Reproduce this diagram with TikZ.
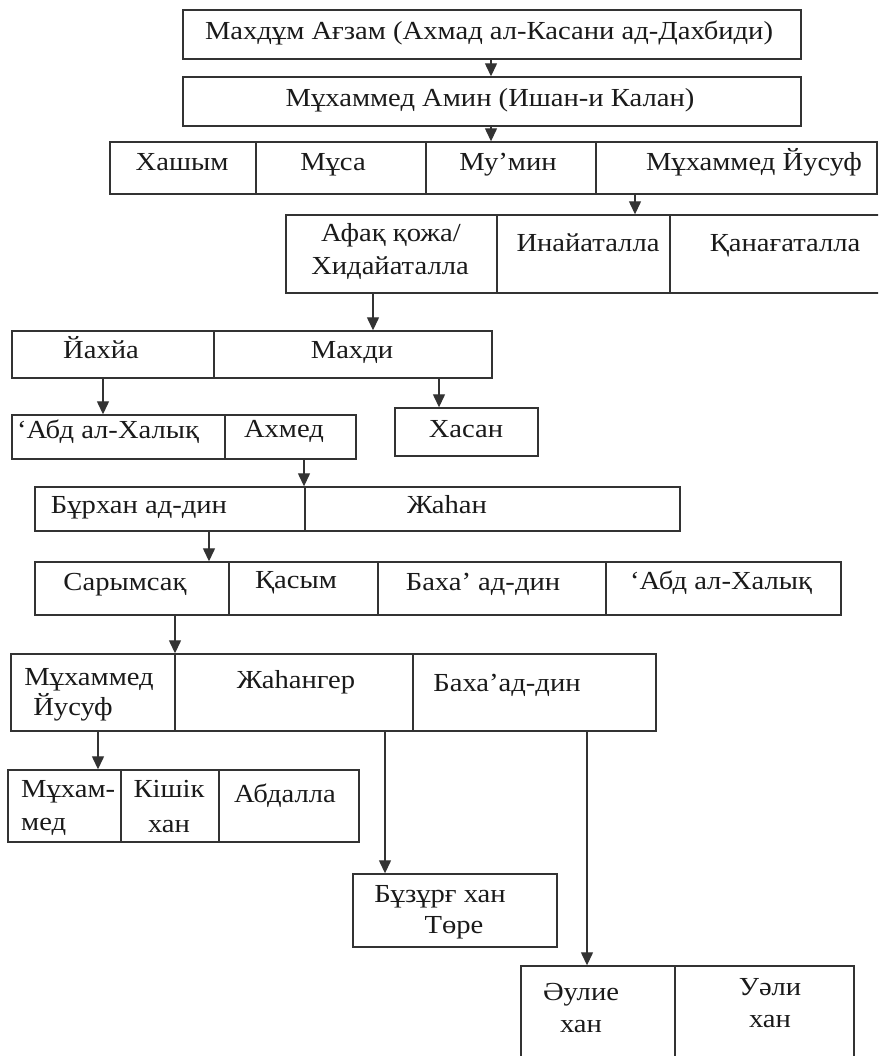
\documentclass[tikz,border=0pt]{standalone}
\usepackage{fontspec}
\setmainfont{Liberation Serif}[FakeStretch=1.1]
\usetikzlibrary{arrows.meta,fit}
\definecolor{linec}{HTML}{333333}
\definecolor{textc}{HTML}{1A1A1A}
\begin{document}
\begin{tikzpicture}[x=1pt,y=-1pt,
  cell/.style={draw=linec, line width=1.4pt, inner sep=0pt, fit={#1}},
  txt/.style={font=\fontsize{26}{31}\selectfont, text=textc, inner sep=0pt, anchor=base},
  txtl/.style={txt, anchor=base west},
  arr/.style={draw=linec, line width=1.3pt, -{Triangle[length=13pt,width=12pt]}}]
\clip (0,0) rectangle (878,1056);
\fill[white] (0,0) rectangle (878,1056);
% boxes
\node[cell={(183,10) (801,59)}] (b1) {};
\node[cell={(183,77) (801,126)}] (b2) {};
\node[cell={(110,142) (256,194)}] (r3a) {};
\node[cell={(256,142) (426,194)}] (r3b) {};
\node[cell={(426,142) (596,194)}] (r3c) {};
\node[cell={(596,142) (877,194)}] (r3d) {};
\node[cell={(286,215) (497,293)}] (r4a) {};
\node[cell={(497,215) (670,293)}] (r4b) {};
\node[cell={(670,215) (890,293)}] (r4c) {};
\node[cell={(12,331) (214,378)}] (r5a) {};
\node[cell={(214,331) (492,378)}] (r5b) {};
\node[cell={(12,415) (225,459)}] (r6a) {};
\node[cell={(225,415) (356,459)}] (r6b) {};
\node[cell={(395,408) (538,456)}] (hasan) {};
\node[cell={(35,487) (305,531)}] (r7a) {};
\node[cell={(305,487) (680,531)}] (r7b) {};
\node[cell={(35,562) (229,615)}] (r8a) {};
\node[cell={(229,562) (378,615)}] (r8b) {};
\node[cell={(378,562) (606,615)}] (r8c) {};
\node[cell={(606,562) (841,615)}] (r8d) {};
\node[cell={(11,654) (175,731)}] (r9a) {};
\node[cell={(175,654) (413,731)}] (r9b) {};
\node[cell={(413,654) (656,731)}] (r9c) {};
\node[cell={(8,770) (121,842)}] (r10a) {};
\node[cell={(121,770) (219,842)}] (r10b) {};
\node[cell={(219,770) (359,842)}] (r10c) {};
\node[cell={(353,874) (557,947)}] (buzurg) {};
\node[cell={(521,966) (675,1070)}] (r11a) {};
\node[cell={(675,966) (854,1070)}] (r11b) {};
% texts
\node[txt] (t1) at (489,40) {Махдұм Ағзам (Ахмад ал-Касани ад-Дахбиди)};
\node[txt] (t2) at (490,107) {Мұхаммед Амин (Ишан-и Калан)};
\node[txt] (t3a) at (182,171) {Хашым};
\node[txt] (t3b) at (333,171) {Мұса};
\node[txt] (t3c) at (508,171) {Му’мин};
\node[txt] (t3d) at (754,171) {Мұхаммед Йусуф};
\node[txt] (t4a1) at (391,242) {Афақ қожа/};
\node[txt] (t4a2) at (390,275) {Хидайаталла};
\node[txt] (t4b) at (588,252) {Инайаталла};
\node[txt] (t4c) at (785,252) {Қанағаталла};
\node[txt] (t5a) at (101,358) {Йахйа};
\node[txt] (t5b) at (352,358) {Махди};
\node[txt] (t6a) at (108,438) {‘Абд ал-Халық};
\node[txt] (t6b) at (284,437) {Ахмед};
\node[txt] (thasan) at (466,437) {Хасан};
\node[txt] (t7a) at (139,513) {Бұрхан ад-дин};
\node[txt] (t7b) at (447,513) {Жаһан};
\node[txt] (t8a) at (125,590) {Сарымсақ};
\node[txt] (t8b) at (296,588) {Қасым};
\node[txt] (t8c) at (483,590) {Баха’ ад-дин};
\node[txt] (t8d) at (721,589) {‘Абд ал-Халық};
\node[txt] (t9a1) at (89,685) {Мұхаммед};
\node[txt] (t9a2) at (73,715) {Йусуф};
\node[txt] (t9b) at (296,688) {Жаһангер};
\node[txt] (t9c) at (507,691) {Баха’ад-дин};
\node[txtl] (t10a1) at (21,797) {Мұхам-};
\node[txtl] (t10a2) at (21,830) {мед};
\node[txt] (t10b1) at (169,797) {Кішік};
\node[txt] (t10b2) at (169,832) {хан};
\node[txt] (t10c) at (285,802) {Абдалла};
\node[txt] (tbz1) at (440,902) {Бұзұрғ хан};
\node[txt] (tbz2) at (454,933) {Төре};
\node[txt] (t11a1) at (581,1000) {Әулие};
\node[txt] (t11a2) at (581,1032) {хан};
\node[txt] (t11b1) at (770,995) {Уәли};
\node[txt] (t11b2) at (770,1027) {хан};
% connector columns
\coordinate (k1) at (491,0);
\coordinate (k3) at (635,0);
\coordinate (k4) at (373,0);
\coordinate (k5) at (103,0);
\coordinate (k6) at (439,0);
\coordinate (k7) at (304,0);
\coordinate (k8) at (209,0);
\coordinate (k9) at (175,0);
\coordinate (k10) at (98,0);
\coordinate (k11) at (385,0);
\coordinate (k12) at (587,0);
% connectors
\draw[arr] (b1.south -| k1) -- (k1 |- b2.north);
\draw[arr] (b2.south -| k1) -- (k1 |- r3c.north);
\draw[arr] (r3d.south -| k3) -- (k3 |- r4b.north);
\draw[arr] (r4a.south -| k4) -- (k4 |- r5b.north);
\draw[arr] (r5a.south -| k5) -- (k5 |- r6a.north);
\draw[arr] (r5b.south -| k6) -- (k6 |- hasan.north);
\draw[arr] (r6b.south -| k7) -- (k7 |- r7a.north);
\draw[arr] (r7a.south -| k8) -- (k8 |- r8a.north);
\draw[arr] (r8a.south -| k9) -- (k9 |- r9a.north);
\draw[arr] (r9a.south -| k10) -- (k10 |- r10a.north);
\draw[arr] (r9b.south -| k11) -- (k11 |- buzurg.north);
\draw[arr] (r9c.south -| k12) -- (k12 |- r11a.north);
\end{tikzpicture}
\end{document}
